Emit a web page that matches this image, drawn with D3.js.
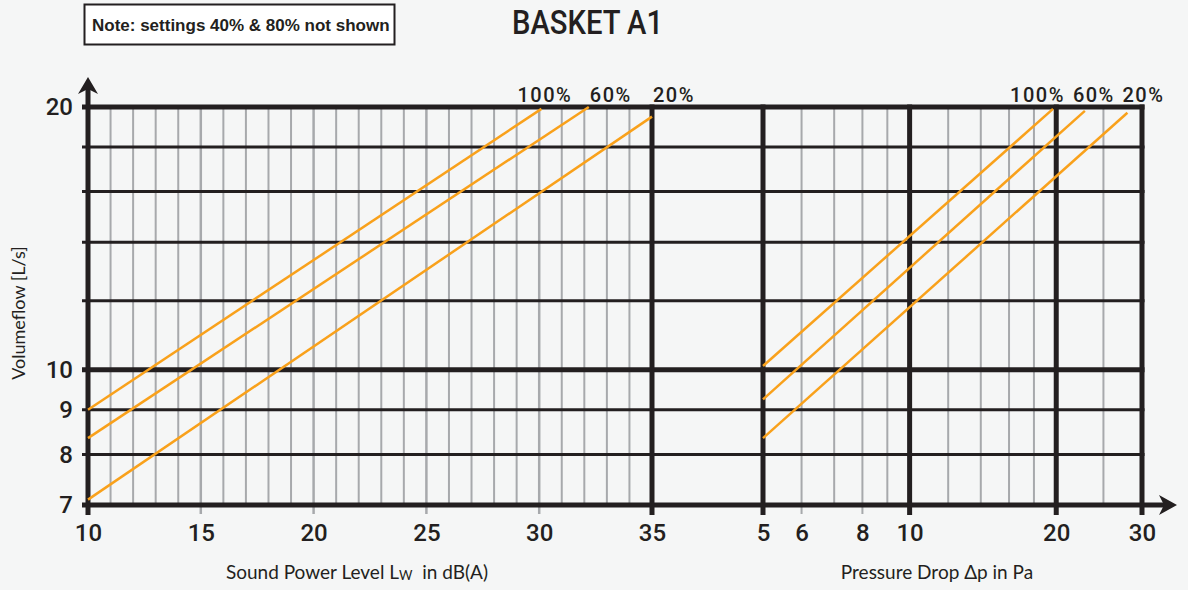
<!DOCTYPE html>
<html>
<head>
<meta charset="utf-8">
<script src="https://cdn.jsdelivr.net/npm/d3@7"></script>
<style>
  body { margin: 0; background: #f5f6f6; }
  svg { display: block; }
</style>
</head>
<body>
<script>
// grid / tick values
const flowGrid = [7, 8, 9, 10, 12, 14, 16, 18, 20];
const flowMajor = [7, 10, 20];
const flowLabels = [7, 8, 9, 10, 20];
const lwGrid = [11, 12, 13, 14, 15, 16, 17, 18, 19, 20, 21, 22, 23, 24, 25, 26, 27, 28, 29, 30, 31, 32, 33, 34];
const lwLabels = [10, 15, 20, 25, 30, 35];
const dpGrid = [6, 7, 8, 9, 12, 14, 16, 18, 25];
const dpMajor = [5, 10, 20, 30];
const dpLabels = [5, 6, 8, 10, 20, 30];

// damper settings, each line given by its two end points
const settings = ['100%', '60%', '20%'];
const lwRange = [[10, 30.1], [10, 32.2], [10, 35]];
const lwFlow = [[9.0, 19.9], [8.35, 20], [7.1, 19.5]];
const dpRange = [[5, 19.7], [5, 22.9], [5, 28]];
const dpFlow = [[10.1, 19.9], [9.25, 19.8], [8.35, 19.7]];

const black = '#231f20', gray = '#a7a9ac', orange = '#f9a11b';
const numFont = 'Roboto, "Liberation Sans", Arial, sans-serif';
const txtFont = 'Lato, "Open Sans", sans-serif';

const svg = d3.select('body').append('svg')
    .attr('width', 1188)
    .attr('height', 590);

svg.append('rect').attr('width', 1188).attr('height', 590).attr('fill', '#f5f6f6');

const y = d3.scaleLog().domain([7, 20]).range([505, 107]);
const xL = d3.scaleLinear().domain([10, 35]).range([88, 652]);
const xR = d3.scaleLog().domain([5, 30]).range([763, 1142]);

const yTop = y(20), yBottom = y(7);

// gray minor verticals
svg.append('g').selectAll('line').data(lwGrid).join('line')
    .attr('x1', d => xL(d)).attr('x2', d => xL(d))
    .attr('y1', yTop).attr('y2', d => lwLabels.includes(d) ? yBottom + 9 : yBottom)
    .attr('stroke', gray).attr('stroke-width', d => lwLabels.includes(d) ? 2.5 : 2);

svg.append('g').selectAll('line').data(dpGrid).join('line')
    .attr('x1', d => xR(d)).attr('x2', d => xR(d))
    .attr('y1', yTop).attr('y2', d => dpLabels.includes(d) ? yBottom + 9 : yBottom)
    .attr('stroke', gray).attr('stroke-width', 2);

// horizontal lines
svg.append('g').selectAll('line').data(flowGrid).join('line')
    .attr('x1', 82).attr('x2', d => d === 7 ? 1165 : xR(30) + 2.5)
    .attr('y1', d => y(d)).attr('y2', d => y(d))
    .attr('stroke', black).attr('stroke-width', d => flowMajor.includes(d) ? 5 : 3);

// black verticals
svg.append('g').selectAll('line').data([xL(35)].concat(dpMajor.map(d => xR(d)))).join('line')
    .attr('x1', d => d).attr('x2', d => d)
    .attr('y1', yTop - 2.5).attr('y2', yBottom + 10)
    .attr('stroke', black).attr('stroke-width', 5);

// y axis with arrow
svg.append('line')
    .attr('x1', xL(10)).attr('x2', xL(10))
    .attr('y1', yBottom + 10).attr('y2', 88)
    .attr('stroke', black).attr('stroke-width', 5);
svg.append('path')
    .attr('d', `M${xL(10)},77 L${xL(10) + 10},94 L${xL(10)},89 L${xL(10) - 10},94 Z`)
    .attr('fill', black);
svg.append('path')
    .attr('d', `M1177,${yBottom} L1159,${yBottom - 10} L1164,${yBottom} L1159,${yBottom + 10} Z`)
    .attr('fill', black);

// setting lines
const line = (sx) => d3.line().x(d => sx(d[0])).y(d => y(d[1]));
const lwLine = line(xL), dpLine = line(xR);

settings.forEach((s, i) => {
    svg.append('path')
        .attr('d', lwLine([[lwRange[i][0], lwFlow[i][0]], [lwRange[i][1], lwFlow[i][1]]]))
        .attr('fill', 'none').attr('stroke', orange).attr('stroke-width', 2.5);
    svg.append('path')
        .attr('d', dpLine([[dpRange[i][0], dpFlow[i][0]], [dpRange[i][1], dpFlow[i][1]]]))
        .attr('fill', 'none').attr('stroke', orange).attr('stroke-width', 2.5);
});

// setting labels
const lwDx = [-24, 1, 1];
const dpDx = [-43, -12, -5];
const lab = svg.append('g')
    .attr('font-family', numFont).attr('font-weight', 500).attr('font-size', 20)
    .attr('letter-spacing', 1.5).attr('fill', black);
settings.forEach((s, i) => {
    lab.append('text').attr('x', xL(lwRange[i][1]) + lwDx[i]).attr('y', 101.5).text(s);
    lab.append('text').attr('x', xR(dpRange[i][1]) + dpDx[i]).attr('y', 101.5).text(s);
});

// tick labels
function styleAxis(g) {
    g.select('.domain').remove();
    g.selectAll('text').attr('font-family', numFont).attr('font-weight', 500)
        .attr('font-size', 24).attr('fill', black);
}

svg.append('g')
    .attr('transform', `translate(0,${yBottom})`)
    .call(d3.axisBottom(xL).tickValues(lwLabels).tickSize(0).tickPadding(19))
    .call(styleAxis);

svg.append('g')
    .attr('transform', `translate(0,${yBottom})`)
    .call(d3.axisBottom(xR).tickValues(dpLabels).tickFormat(d3.format('d')).tickSize(0).tickPadding(19))
    .call(styleAxis);

svg.append('g')
    .attr('transform', `translate(${xL(10)},0)`)
    .call(d3.axisLeft(y).tickValues(flowLabels).tickFormat(d3.format('d')).tickSize(0).tickPadding(15))
    .call(styleAxis);

// titles
svg.append('text')
    .attr('x', 512).attr('y', 34)
    .attr('textLength', 151).attr('lengthAdjust', 'spacingAndGlyphs')
    .attr('font-family', 'Roboto, "Liberation Sans", sans-serif')
    .attr('font-weight', 500).attr('font-size', 33)
    .attr('fill', black)
    .text('BASKET A1');

svg.append('rect')
    .attr('x', 84.5).attr('y', 4.5).attr('width', 310).attr('height', 40)
    .attr('fill', '#fff').attr('stroke', black).attr('stroke-width', 2);
svg.append('text')
    .attr('x', 92).attr('y', 31)
    .attr('font-family', '"Liberation Sans", Arial, sans-serif').attr('font-weight', 'bold').attr('font-size', 17)
    .attr('fill', black)
    .text('Note: settings 40% & 80% not shown');

svg.append('text')
    .attr('transform', 'translate(25,313) rotate(-90)')
    .attr('text-anchor', 'middle')
    .attr('font-family', txtFont).attr('font-size', 18).attr('fill', black)
    .text('Volumeflow [L/s]');

const xt = svg.append('text')
    .attr('x', 357).attr('y', 579)
    .attr('text-anchor', 'middle')
    .attr('font-family', txtFont).attr('font-size', 19).attr('fill', black);
xt.append('tspan').text('Sound Power Level L');
xt.append('tspan').attr('font-size', 13).attr('dy', 1).text('W');
xt.append('tspan').attr('dy', -1).text('\u00a0 in dB(A)');

svg.append('text')
    .attr('x', 937).attr('y', 579)
    .attr('text-anchor', 'middle')
    .attr('font-family', txtFont).attr('font-size', 19).attr('fill', black)
    .text('Pressure Drop \u0394p in Pa');
</script>
</body>
</html>
